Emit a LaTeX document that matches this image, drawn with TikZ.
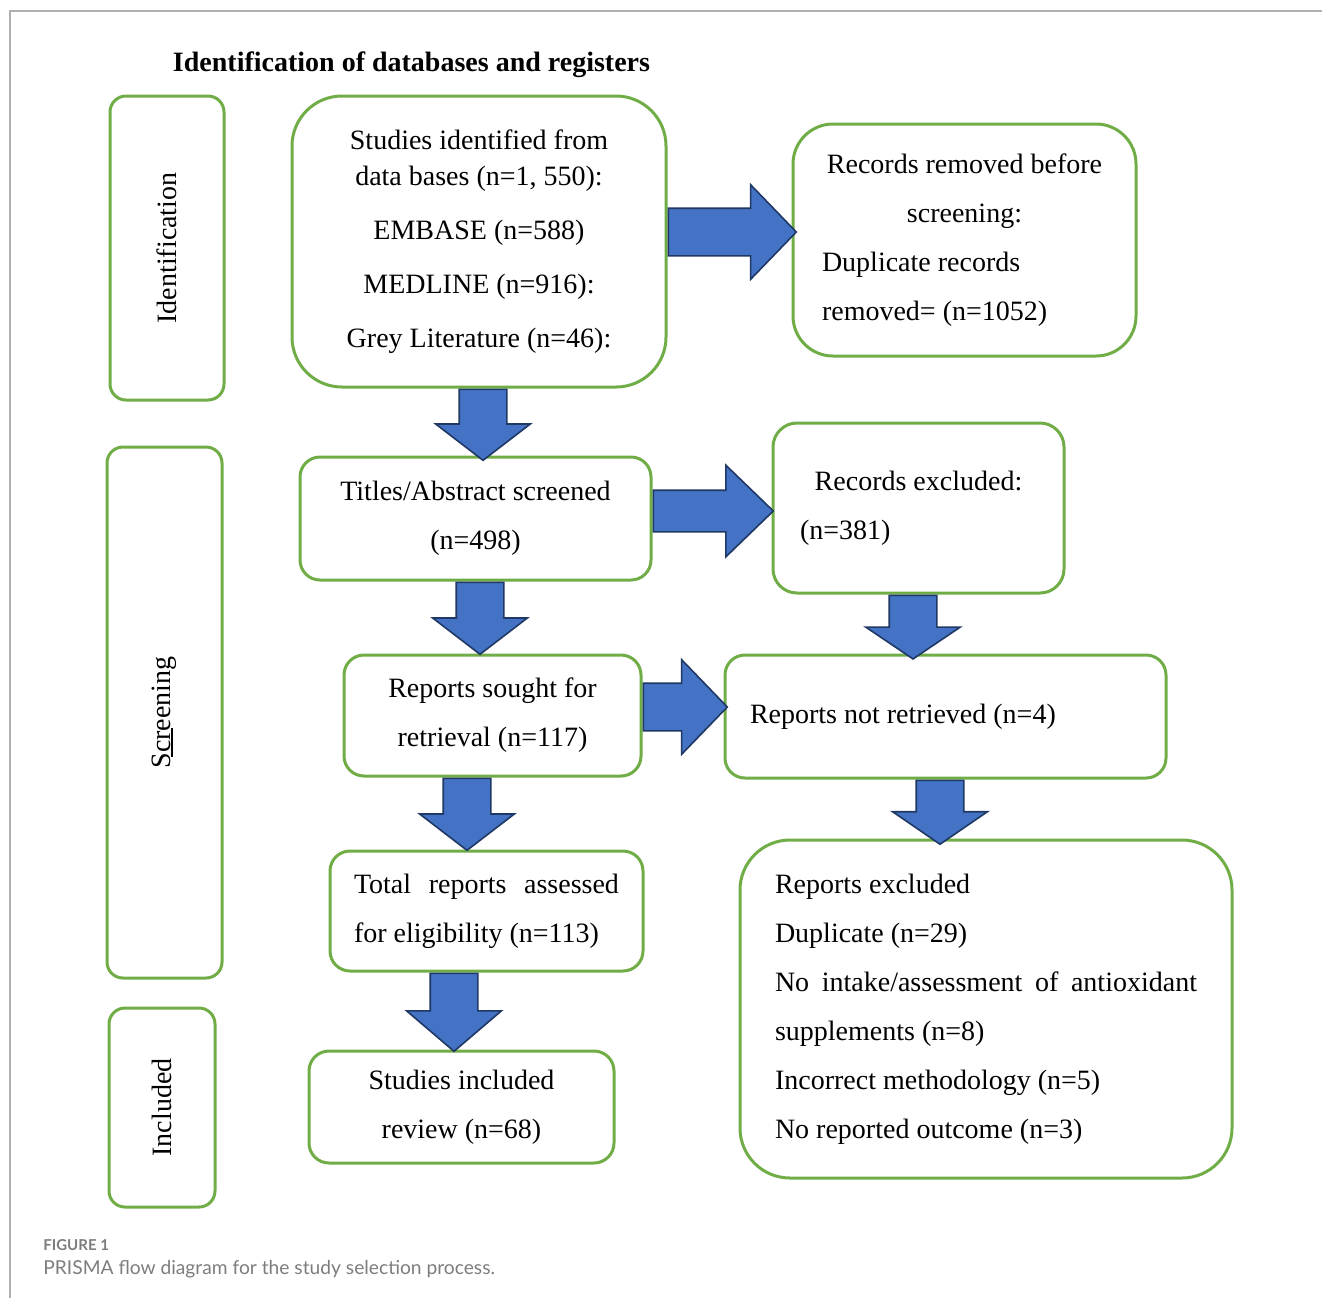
\documentclass[tikz,border=0pt]{standalone}
\usepackage{fontspec}
\setmainfont{Liberation Serif}
\newfontfamily\capfont{Lato}
\usepackage{tikz}
\usetikzlibrary{positioning,shapes.arrows}
\definecolor{boxgreen}{RGB}{112,173,71}
\definecolor{arrblue}{RGB}{68,114,196}
\definecolor{arrline}{RGB}{31,56,100}
\definecolor{framegray}{RGB}{175,175,175}
\definecolor{capgray}{RGB}{125,125,125}
\newcommand{\lline}[2]{\makebox[#1][l]{#2}}
\newcommand{\sline}[2]{\makebox[#1][s]{#2}}

\begin{document}
\begin{tikzpicture}[x=0.5pt, y=-0.5pt,
  box/.style={draw=boxgreen, line width=1.5pt, rounded corners=#1, inner sep=0pt,
    align=center, font=\fontsize{14}{24.5}\selectfont},
  box/.default=10pt,
  side/.style={box=8pt, rotate=90, font=\fontsize{14}{16}\selectfont},
  blk/.style={single arrow, draw=arrline, fill=arrblue, line width=0.8pt,
    inner sep=11.5pt, single arrow head extend=11.75pt, anchor=tail},
  rarr/.style={blk, single arrow tip angle=92},
  darr/.style={blk, rotate=-90, single arrow tip angle=105},
  capt/.style={anchor=base west, inner sep=0pt, text=capgray}]
  \useasboundingbox (0,0) rectangle (1322,1298);
  \draw[framegray, line width=1pt] (10,1298) -- (10,11) -- (1322,11);

  \node[font=\fontsize{14}{16}\selectfont\bfseries] (title) at (411.5,65)
    {Identification of databases and registers};

  % stage labels
  \node[side, minimum width=152pt, minimum height=57pt] (ident) at (167,248) {Identification};
  \node[side, minimum width=265.5pt, minimum height=57.5pt] (screen) at (164.5,712.5) {Screening};
  \draw[line width=0.6pt] (172,728) -- (172,757);
  \node[side, minimum width=99.5pt, minimum height=53pt] (incl) at (162,1107.5) {Included};

  % main column
  \node[box=25pt, minimum width=187pt, minimum height=145.5pt,
    font=\fontsize{14}{27}\selectfont] (b1) at (479,241.5)
    {Studies identified from\\[-9pt]data bases (n=1, 550):\\EMBASE (n=588)\\MEDLINE (n=916):\\Grey Literature (n=46):};
  \node[box, minimum width=175.5pt, minimum height=61.5pt] (b2) at (475.5,518.5)
    {Titles/Abstract screened\\(n=498)};
  \node[box, minimum width=148.5pt, minimum height=60.5pt] (b3) at (492.5,715.5)
    {Reports sought for\\retrieval (n=117)};
  \node[box, minimum width=156.5pt, minimum height=60pt] (b4) at (486.5,911)
    {\sline{132.5pt}{Total reports assessed}\\\lline{132.5pt}{for eligibility (n=113)}};
  \node[box, minimum width=152.5pt, minimum height=56pt] (b5) at (461.5,1107)
    {Studies included\\review (n=68)};

  % right column
  \node[box=20pt, minimum width=171.5pt, minimum height=116pt] (r1) at (964.5,240)
    {Records removed before\\screening:\\\lline{142.5pt}{Duplicate records}\\\lline{142.5pt}{removed= (n=1052)}};
  \node[box=12pt, minimum width=145.5pt, minimum height=85pt] (r2) at (918.5,508)
    {Records excluded:\\\lline{118.5pt}{(n=381)}};
  \node[box, minimum width=220.5pt, minimum height=61.5pt] (r3) at (945.5,716.5)
    {\lline{195.5pt}{Reports not retrieved (n=4)}};
  \node[box=25pt, minimum width=246pt, minimum height=169pt] (r4) at (986,1009)
    {\lline{211pt}{Reports excluded}\\\lline{211pt}{Duplicate (n=29)}\\
     \sline{211pt}{No intake/assessment of antioxidant}\\\lline{211pt}{supplements (n=8)}\\
     \lline{211pt}{Incorrect methodology (n=5)}\\\lline{211pt}{No reported outcome (n=3)}};

  % block arrows
  \node[rarr, minimum height=64pt] (a1) at ([yshift=4.75pt]b1.east) {};
  \node[darr, minimum height=35.5pt] (a2) at ([xshift=2pt]b1.south) {};
  \node[rarr, minimum height=60pt, inner sep=10pt, single arrow head extend=12.5pt,
    single arrow tip angle=88] (a3) at ([yshift=3.75pt]b2.east) {};
  \node[darr, minimum height=36pt] (a4) at ([xshift=2.25pt]b2.south) {};
  \node[darr, minimum height=30.5pt, single arrow tip angle=112] (a5) at ([xshift=-2.75pt]r2.south) {};
  \node[rarr, minimum height=42pt] (a6) at ([yshift=4.25pt]b3.east) {};
  \node[darr, minimum height=36pt] (a7) at ([xshift=-12.75pt]b3.south) {};
  \node[darr, minimum height=31pt, single arrow tip angle=111] (a8) at ([xshift=-2.75pt]r3.south) {};
  \node[darr, minimum height=39pt, single arrow tip angle=99] (a9) at ([xshift=-16.25pt]b4.south) {};

  % caption
  \node[capt, font=\capfont\fontsize{7.5}{9}\selectfont\bfseries] (fig)
    at (43,1250) {FIGURE 1};
  \node[capt, font=\capfont\fontsize{9.6}{12}\selectfont] (cap)
    at (43,1274) {PRISMA flow diagram for the study selection process.};
\end{tikzpicture}
\end{document}
